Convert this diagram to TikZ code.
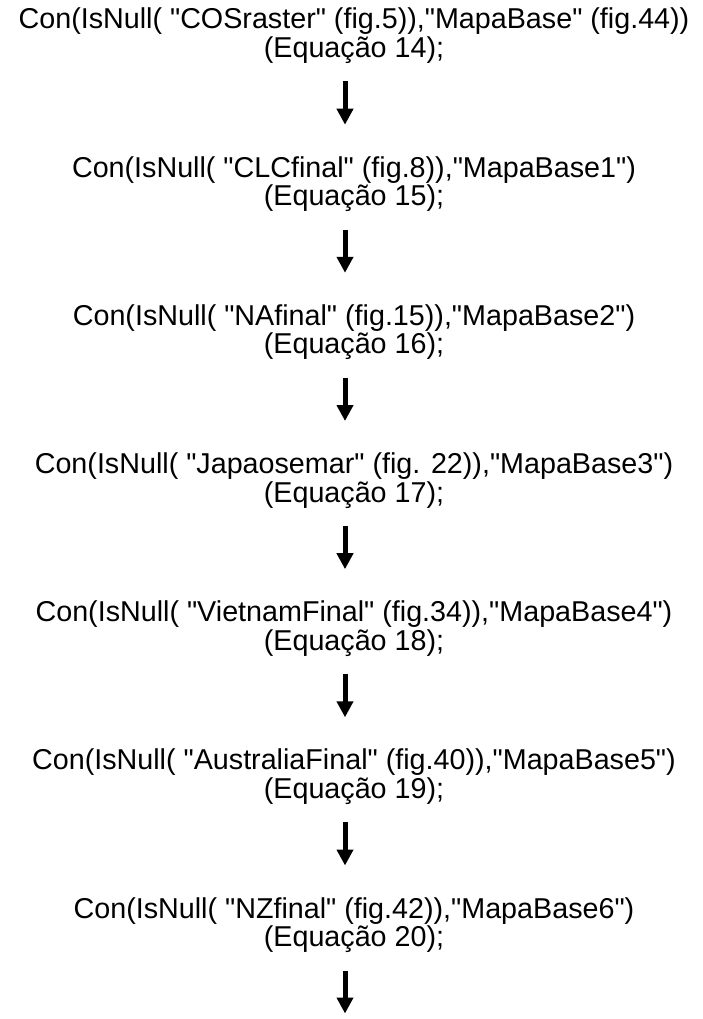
\documentclass[tikz,border=0pt]{standalone}
\usepackage{fontspec}
\setmainfont{Liberation Sans}[Ligatures=TeXOff]
\usetikzlibrary{arrows.meta,calc}
\begin{document}
\begin{tikzpicture}[x=1pt,y=-1pt,
  txt/.style={inner sep=0pt, anchor=base, font=\fontsize{28.7}{29}\selectfont},
  flow/.style={line width=5pt, -{Triangle[width=16pt,length=16pt]}}]
\useasboundingbox (0,0) rectangle (702,1019);
\coordinate (ax) at (345,0);
\node[txt] (c1) at (354,29)    {Con(IsNull( "COSraster" (fig.5)),"MapaBase" (fig.44))};
\node[txt] (e1) at (354,57.5)  {(Equação 14);};
\node[txt] (c2) at (354,177.2) {Con(IsNull( "CLCfinal" (fig.8)),"MapaBase1")};
\node[txt] (e2) at (354,205.7) {(Equação 15);};
\node[txt] (c3) at (354,325.3) {Con(IsNull( "NAfinal" (fig.15)),"MapaBase2")};
\node[txt] (e3) at (354,353.8) {(Equação 16);};
\node[txt] (c4) at (354,473.5) {Con(IsNull( "Japaosemar" (fig. 22)),"MapaBase3")};
\node[txt] (e4) at (354,502)   {(Equação 17);};
\node[txt] (c5) at (354,621.7) {Con(IsNull( "VietnamFinal" (fig.34)),"MapaBase4")};
\node[txt] (e5) at (354,650.2) {(Equação 18);};
\node[txt] (c6) at (354,769.8) {Con(IsNull( "AustraliaFinal" (fig.40)),"MapaBase5")};
\node[txt] (e6) at (354,798.3) {(Equação 19);};
\node[txt] (c7) at (354,918)   {Con(IsNull( "NZfinal" (fig.42)),"MapaBase6")};
\node[txt] (e7) at (354,946.5) {(Equação 20);};
\draw[flow] ($(e1.base -| ax)+(0,24)$) -- ($(c2.base -| ax)+(0,-52.5)$);
\draw[flow] ($(e2.base -| ax)+(0,24)$) -- ($(c3.base -| ax)+(0,-52.5)$);
\draw[flow] ($(e3.base -| ax)+(0,24)$) -- ($(c4.base -| ax)+(0,-52.5)$);
\draw[flow] ($(e4.base -| ax)+(0,24)$) -- ($(c5.base -| ax)+(0,-52.5)$);
\draw[flow] ($(e5.base -| ax)+(0,24)$) -- ($(c6.base -| ax)+(0,-52.5)$);
\draw[flow] ($(e6.base -| ax)+(0,24)$) -- ($(c7.base -| ax)+(0,-52.5)$);
\coordinate (end) at ($(e7.base -| ax)+(0,67)$);
\draw[flow] ($(e7.base -| ax)+(0,24)$) -- (end);
\end{tikzpicture}
\end{document}
